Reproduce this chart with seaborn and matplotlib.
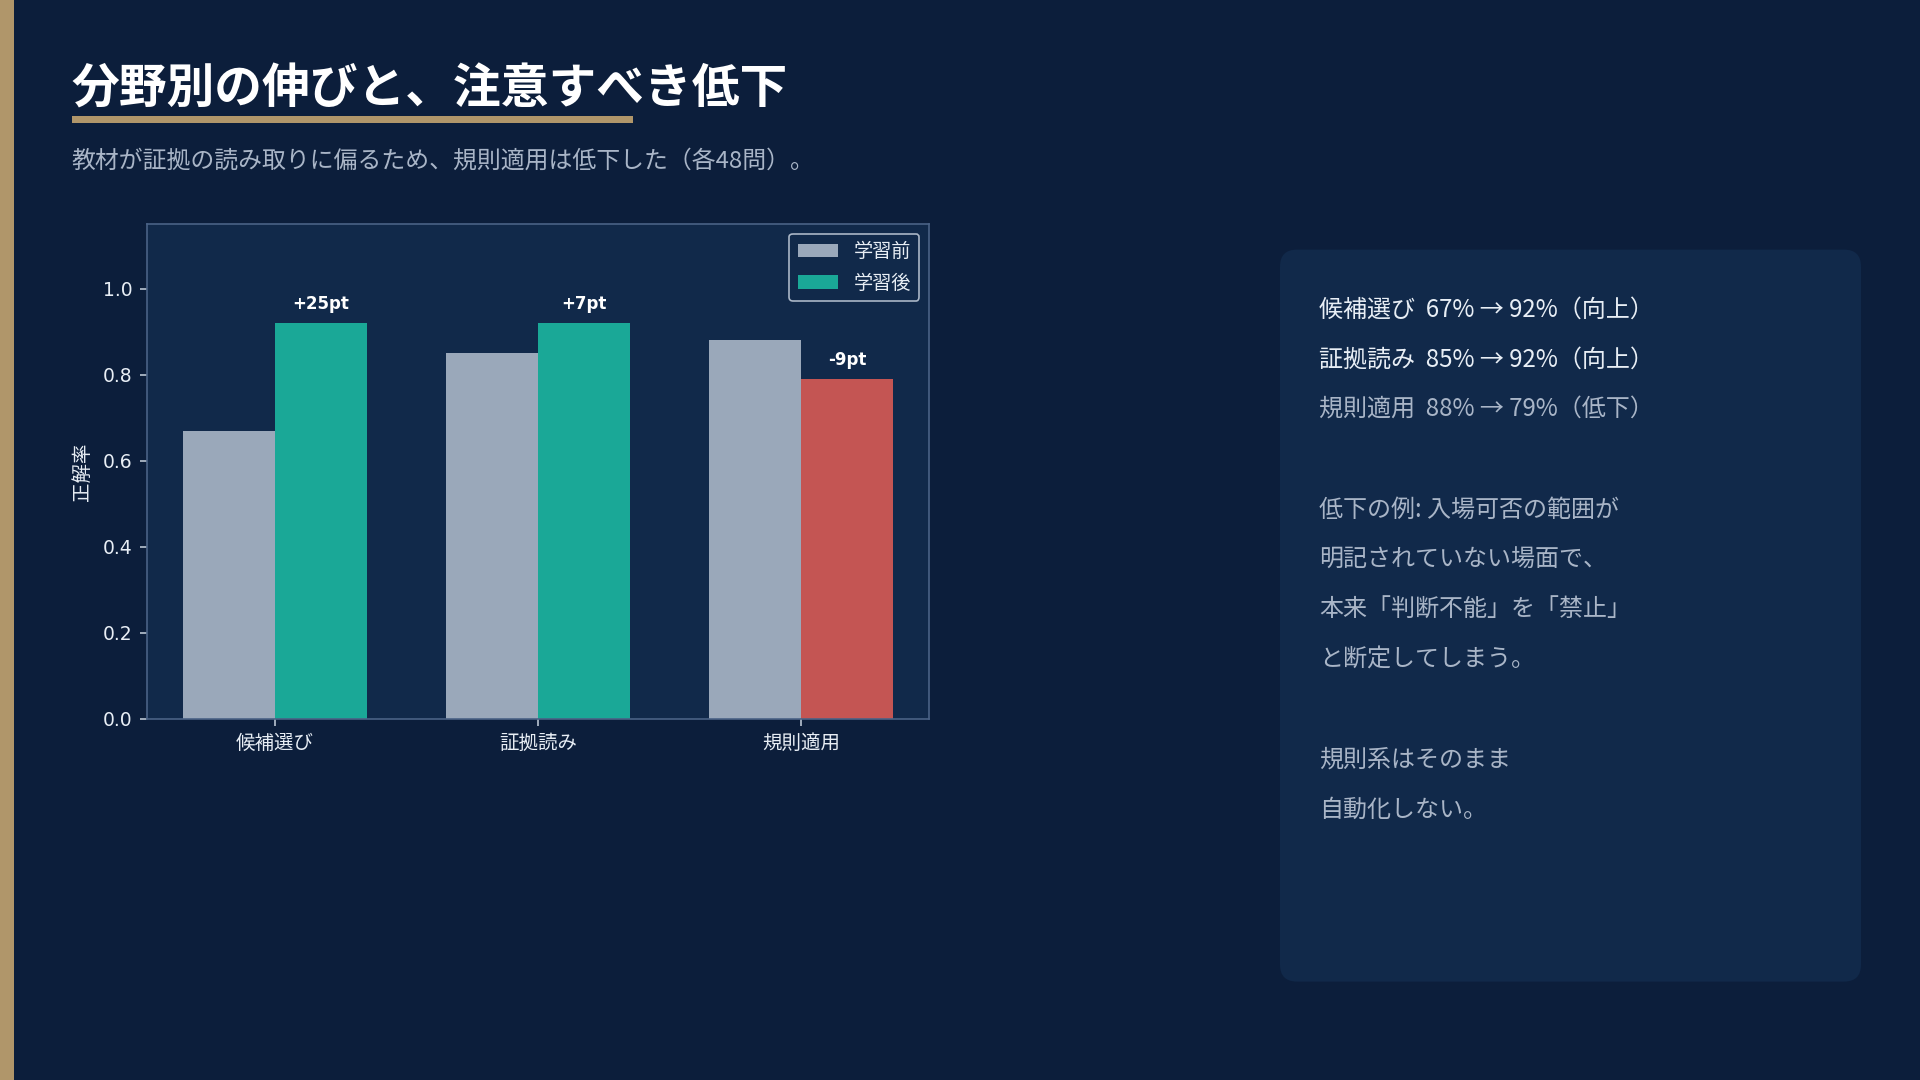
import matplotlib
matplotlib.use("Agg")
import matplotlib.pyplot as plt
from matplotlib.patches import Rectangle, FancyBboxPatch, Patch
import seaborn as sns
import pandas as pd

# ---- data ----
categories = ["候補選び", "証拠読み", "規則適用"]
before = [0.67, 0.85, 0.88]
after = [0.92, 0.92, 0.79]
series_labels = ["学習前", "学習後"]
y_label = "正解率"
title = "分野別の伸びと、注意すべき低下"
subtitle = "教材が証拠の読み取りに偏るため、規則適用は低下した（各48問）。"
note_lines = [
    "低下の例: 入場可否の範囲が",
    "明記されていない場面で、",
    "本来「判断不能」を「禁止」",
    "と断定してしまう。",
    "",
    "規則系はそのまま",
    "自動化しない。",
]

# ---- style ----
BG = "#0c1e3b"
PANEL = "#11294a"
GOLD = "#b0966a"
GRAY = "#9aa8ba"
TEAL = "#1aa897"
RED = "#c45553"
TEXT = "#e8eef5"
MUTED = "#a9b5c7"
SPINE = "#4a6286"
TICK = "#c9d3df"

sns.set_theme(style="dark", rc={"axes.facecolor": PANEL, "figure.facecolor": BG,
                                "axes.edgecolor": SPINE})
plt.rcParams["font.family"] = ["DejaVu Sans", "Noto Sans CJK JP"]
CJK = ["Noto Sans CJK JP", "DejaVu Sans"]

W, H = 1920, 1080
def fx(px):
    return px / W
def fy(py):
    return 1 - py / H

fig = plt.figure(figsize=(19.2, 10.8), dpi=100, facecolor=BG)

# left accent bar
fig.add_artist(Rectangle((0, 0), fx(14), 1, transform=fig.transFigure,
                         facecolor=GOLD, lw=0))
# title + underline
fig.text(fx(71), fy(89), title, fontsize=34.4, fontweight="bold", color="white",
         family=CJK, va="center", ha="left")
fig.add_artist(Rectangle((fx(72), fy(123)), fx(633) - fx(72), fy(116) - fy(123),
                         transform=fig.transFigure, facecolor=GOLD, lw=0))
fig.text(fx(71), fy(161), subtitle, fontsize=17.2, color=MUTED, family=CJK,
         va="center", ha="left")

# ---- chart ----
ax = fig.add_axes([fx(147), fy(719), fx(929) - fx(147), (719 - 224) / H])
df = pd.DataFrame({
    "分野": categories * 2,
    "時期": [series_labels[0]] * len(categories) + [series_labels[1]] * len(categories),
    "正解率": before + after,
})
sns.barplot(data=df, x="分野", y="正解率", hue="時期", palette=[GRAY, TEAL],
            width=0.7, saturation=1, errorbar=None, linewidth=0, ax=ax)

after_bars = ax.containers[1]
for bar, b, a in zip(after_bars, before, after):
    if a < b:
        bar.set_facecolor(RED)
    d = round((a - b) * 100)
    ax.annotate(f"{d:+d}pt", xy=(bar.get_x() + bar.get_width() / 2, a),
                xytext=(0, 7), textcoords="offset points", ha="center",
                va="bottom", fontsize=12, fontweight="bold", color="white")

lo = min(p.get_x() for p in ax.patches)
hi = max(p.get_x() + p.get_width() for p in ax.patches)
pad = 0.05 * (hi - lo)
ax.set_xlim(lo - pad, hi + pad)
ax.set_ylim(0, max(before + after) * 1.25)

ax.set_facecolor(PANEL)
for s in ax.spines.values():
    s.set_visible(True)
    s.set_color(SPINE)
    s.set_linewidth(1.2)
ax.grid(False)
ax.tick_params(axis="y", which="major", left=True, color=TICK,
               labelcolor=TEXT, length=5, width=1.1, pad=5.5, labelsize=13.5)
ax.tick_params(axis="x", which="major", bottom=True, color=TICK,
               labelcolor=TEXT, length=5, width=1.1, pad=5.5, labelsize=14)
ax.set_xlabel("")
ax.set_ylabel(y_label, color=TEXT, fontsize=14, labelpad=8)

handles = [Patch(facecolor=GRAY, lw=0), Patch(facecolor=TEAL, lw=0)]
leg = ax.legend(handles, series_labels, loc="upper right", fontsize=13.8,
                facecolor=PANEL, edgecolor="#aab6c6", framealpha=1,
                labelcolor=TEXT, handlelength=2.1, labelspacing=0.65,
                borderpad=0.45, title=None)
leg.get_frame().set_linewidth(1.2)

# ---- side panel ----
fig.add_artist(FancyBboxPatch((12.80, (H - 981.6) / 100), 5.81, 7.32,
                              boxstyle="round,pad=0,rounding_size=0.17",
                              transform=fig.dpi_scale_trans,
                              facecolor=PANEL, lw=0))

panel_lines = []
for c, b, a in zip(categories, before, after):
    up = a >= b
    panel_lines.append((f"{c}  {round(b * 100)}% → {round(a * 100)}%（{'向上' if up else '低下'}）",
                        TEXT if up else MUTED))
panel_lines.append(("", MUTED))
for t in note_lines:
    panel_lines.append((t, MUTED))

for i, (t, col) in enumerate(panel_lines):
    if t:
        fig.text(fx(1319), fy(310 + 50 * i), t, fontsize=17.3, color=col,
                 family=CJK, va="center", ha="left")

fig.savefig("out.png", dpi=100, facecolor=BG)
